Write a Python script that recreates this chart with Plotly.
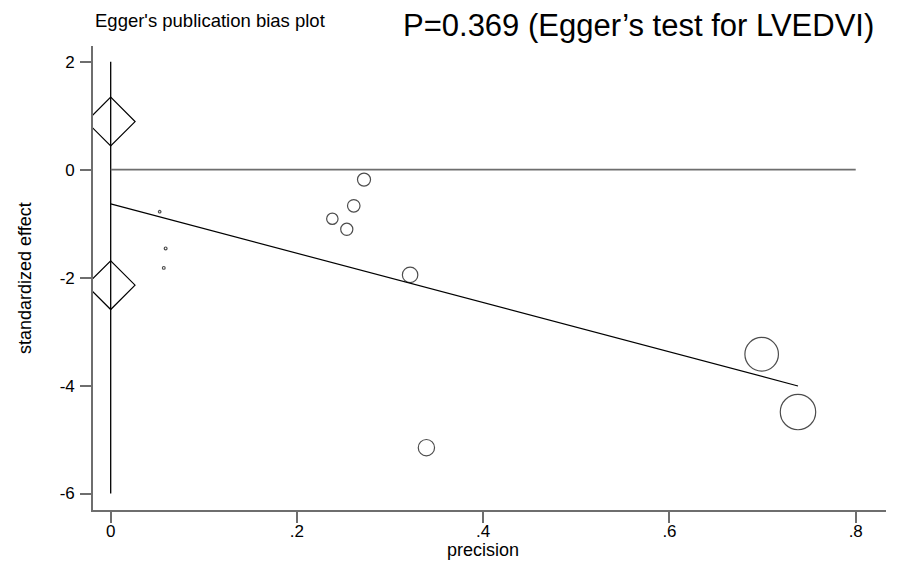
import plotly.graph_objects as go

# ---- data ----
precision = [0.0526, 0.059, 0.057, 0.272, 0.261, 0.238, 0.2535, 0.3215, 0.339, 0.699, 0.738]
std_effect = [-0.78, -1.46, -1.82, -0.185, -0.67, -0.91, -1.105, -1.95, -5.15, -3.42, -4.49]
intercept = -0.635
slope = -4.57
intercept_ci = [-2.14, 0.89]
x_ticks = [0, 0.2, 0.4, 0.6, 0.8]
x_tick_labels = ["0", ".2", ".4", ".6", ".8"]
y_ticks = [-6, -4, -2, 0, 2]
y_tick_labels = ["-6", "-4", "-2", "0", "2"]
zero_line_x = [0, 0.8]
vert_line_y = [-6, 2]

FONT = "Liberation Sans, Arial, Helvetica, sans-serif"
AXIS_GRAY = "#6e6e6e"

fig = go.Figure()

# vertical line at precision = 0
fig.add_trace(go.Scatter(x=[0, 0], y=vert_line_y, mode="lines",
                         line=dict(color="black", width=1.3), hoverinfo="skip"))
# horizontal zero line
fig.add_trace(go.Scatter(x=zero_line_x, y=[0, 0], mode="lines",
                         line=dict(color=AXIS_GRAY, width=1.6), hoverinfo="skip"))
# regression line
reg_x = [0, max(precision)]
reg_y = [intercept + slope * v for v in reg_x]
fig.add_trace(go.Scatter(x=reg_x, y=reg_y, mode="lines",
                         line=dict(color="black", width=1.2)))
# CI diamonds for intercept
fig.add_trace(go.Scatter(x=[0] * len(intercept_ci), y=intercept_ci, mode="markers",
                         marker=dict(symbol="diamond-open", size=37.5, color="black",
                                     line=dict(width=1.2))))
# study points, size by precision
fig.add_trace(go.Scatter(x=precision, y=std_effect, mode="markers",
                         marker=dict(symbol="circle-open", size=[48 * p for p in precision],
                                     color="black", line=dict(width=1.2))))

fig.update_layout(
    width=902, height=564,
    margin=dict(l=93, r=16, t=46, b=54),
    paper_bgcolor="white", plot_bgcolor="white",
    showlegend=False,
    font=dict(family=FONT, color="black", size=17),
    xaxis=dict(range=[-0.019, 0.8325], tickvals=x_ticks, ticktext=x_tick_labels,
               showline=True, linecolor=AXIS_GRAY, linewidth=1.6,
               ticks="outside", ticklen=11, tickwidth=1.6, tickcolor=AXIS_GRAY,
               showgrid=False, zeroline=False, ticklabelstandoff=-6,
               tickfont=dict(size=17)),
    yaxis=dict(range=[-6.305, 2.29], tickvals=y_ticks, ticktext=y_tick_labels,
               showline=True, linecolor=AXIS_GRAY, linewidth=1.6,
               ticks="outside", ticklen=11, tickwidth=1.6, tickcolor=AXIS_GRAY,
               showgrid=False, zeroline=False, ticklabelstandoff=2,
               tickfont=dict(size=17)),
    annotations=[
        dict(text="Egger's publication bias plot", xref="paper", yref="paper",
             x=0, y=1 + 25 / 464, xanchor="left", yanchor="middle", showarrow=False,
             font=dict(size=18.5)),
        dict(text="P=0.369 (Egger\u2019s test for LVEDVI)", xref="paper", yref="paper",
             x=(401 - 93) / 793, y=1 + 20 / 464, xanchor="left", yanchor="middle",
             showarrow=False, font=dict(size=31)),
        dict(text="precision", xref="x", yref="paper", x=0.4, y=-40 / 464,
             xanchor="center", yanchor="middle", showarrow=False, font=dict(size=18)),
        dict(text="standardized effect", xref="paper", yref="paper", x=-(93 - 25) / 793,
             y=0.5, xanchor="center", yanchor="middle", textangle=-90, showarrow=False,
             font=dict(size=18)),
    ],
)

fig.write_html("out.html", config={"displayModeBar": False},
               post_script="document.body.style.margin='0';")
